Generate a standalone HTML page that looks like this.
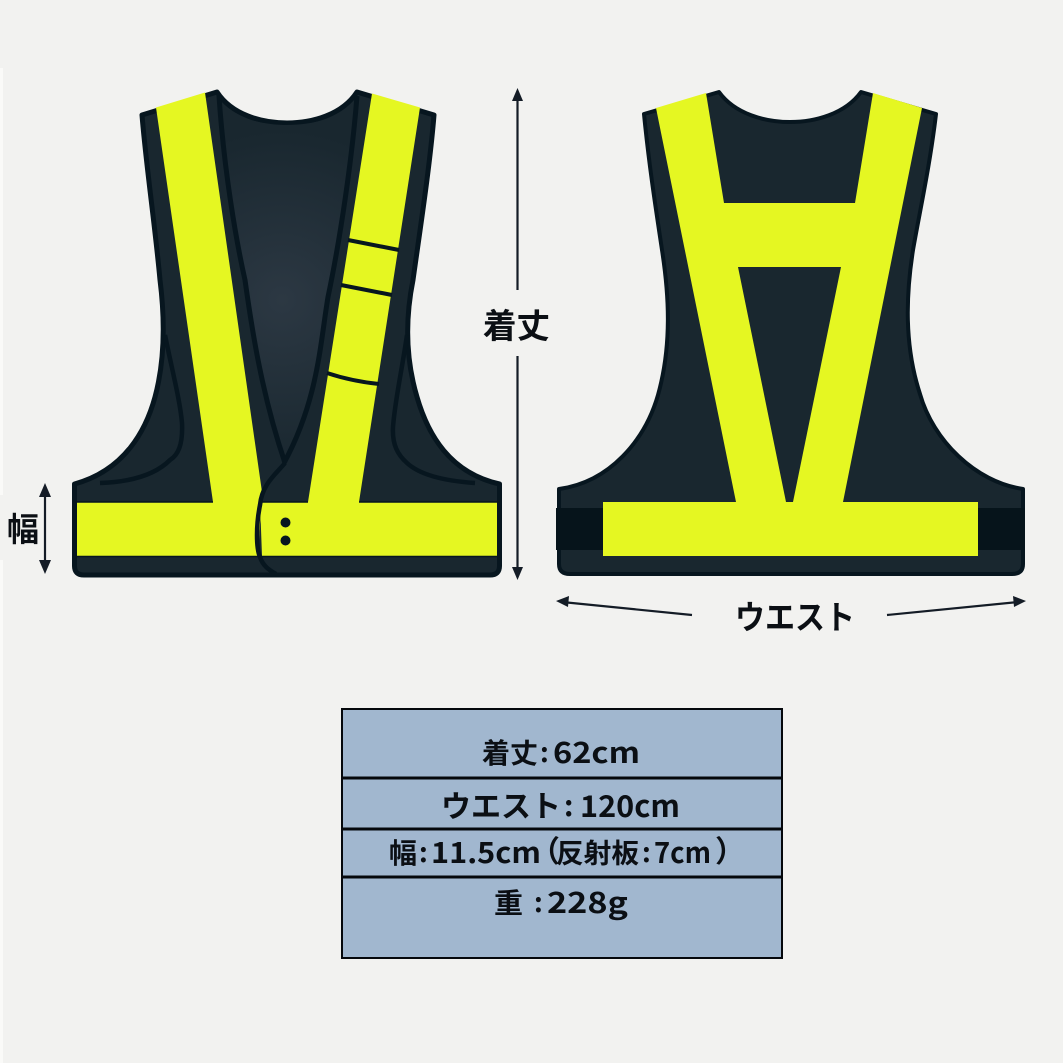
<!DOCTYPE html>
<html><head><meta charset="utf-8"><style>
html,body{margin:0;padding:0;background:#f2f2f0}
svg{display:block}
text{fill:#0b0f14}
.c{font-family:"Noto Sans CJK JP",sans-serif;font-weight:700}
</style></head><body>
<svg width="1063" height="1063" viewBox="0 0 1063 1063" xmlns="http://www.w3.org/2000/svg">
<defs>
<radialGradient id="g" gradientUnits="userSpaceOnUse" cx="282" cy="300" r="170"><stop offset="0" stop-color="#2c3843"/><stop offset="1" stop-color="#19272f"/></radialGradient>
</defs>
<rect width="1063" height="1063" fill="#f2f2f0"/>
<rect x="0" y="68" width="3" height="427" fill="#fafaf8"/>
<rect x="0" y="560" width="3" height="503" fill="#fafaf8"/>

<!-- LEFT VEST -->
<path d="M142 115 L217 92 C232 115 262 123 287 123 C312 123 342 115 357 92 L434 115 C430 165 420 230 413 280 C405 320 406 360 417 397 C428 435 450 473 499.500 484 L499.500 566 Q499.500 575 490 575 L84 575 Q74.500 575 74.500 566 L74.500 484 C125 470 146 430 155 397 C165 360 165 320 160 280 C155 225 146 165 142 115 Z" fill="#19272f" stroke="#07161f" stroke-width="5" stroke-linejoin="round"/>
<path d="M219 100 C232 118 262 125 287 125 C312 125 342 118 356 100 C352 160 340 240 328 297 C320 345 318 400 284 463 C262 395 252 330 245 280 C236 240 224 170 219 100 Z" fill="url(#g)"/>
<!-- inner seams -->
<path d="M219 96 C224 170 236 240 245 280 C252 330 262 395 285 463" fill="none" stroke="#07161f" stroke-width="5"/>
<path d="M357 96 C352 160 340 240 328 297 C320 345 318 400 284 463" fill="none" stroke="#07161f" stroke-width="5"/>
<path d="M165 335 C172 370 180 400 182 423 C183 445 178 455 170 460 C155 475 130 482 100 483" fill="none" stroke="#07161f" stroke-width="4.500"/>
<path d="M407 335 C402 370 395 400 393 427 C392 445 398 455 407 463 C420 475 445 481 475 483" fill="none" stroke="#07161f" stroke-width="4.500"/>
<!-- yellow -->
<path d="M156 107.500 L205 92.500 L262 492 L258 556 L77 556 L77 502 L213 502 Z" fill="#e5f722"/>
<path d="M372 93.500 L420 107.500 L359 502 L497 502 L497 556 L262 556 L260 502 L308 502 Z" fill="#e5f722"/>
<!-- band edge -->
<path d="M77 556.500 H497 M77 502 H213 M308 502 H262 M359 502 H497" stroke="#07161f" stroke-width="1.500" fill="none"/>
<!-- straps seam lines -->
<path d="M348 240 L399 250" stroke="#07161f" stroke-width="4"/>
<path d="M341 285 L392 295" stroke="#07161f" stroke-width="4"/>
<path d="M327 373 C345 379 360 382 379 384" stroke="#07161f" stroke-width="4" fill="none"/>
<!-- placket -->
<path d="M285 463 C276 474 262 484 260 505 C256 525 256 548 260 557 C263 566 269 570 276 574" fill="none" stroke="#07161f" stroke-width="4.500"/>
<circle cx="285.500" cy="522.500" r="5" fill="#07161f"/>
<circle cx="285.500" cy="540.500" r="5" fill="#07161f"/>

<!-- RIGHT VEST -->
<path d="M644 114 L719 92 C735 114 765 122 790 122 C815 122 845 114 861 92 L936 114 C930 165 920 210 913 250 C906 295 904 345 920 394 C933 440 975 482 1023 489 L1023 564 Q1023 574 1012 574 L570 574 Q559 574 559 564 L559 489 C610 482 645 440 658 395 C672 345 669 295 662 250 C656 210 649 165 644 114 Z" fill="#19272f" stroke="#07161f" stroke-width="4" stroke-linejoin="round"/>
<rect x="556" y="508" width="48" height="42" fill="#06141b"/>
<rect x="977" y="508" width="48" height="42" fill="#06141b"/>
<path d="M656 108 L706 93 L724 203 L855 203 L873 93 L922 108 L843 502 L978 502 L978 556 L603 556 L603 502 L736 502 Z" fill="#e5f722"/>
<path d="M738 267 L841 267 L793 502 L786 502 Z" fill="#19272f"/>

<!-- ARROWS -->
<g stroke="#141c26" stroke-width="2.200" fill="#141c26">
<path d="M517.500 96 V290"/>
<path d="M517.500 356 V572"/>
<path d="M517.500 88 L512 101 L523 101 Z" stroke="none"/>
<path d="M517.500 580 L512 567 L523 567 Z" stroke="none"/>
<path d="M45 490 V566"/>
<path d="M45 483 L39 497 L51 497 Z" stroke="none"/>
<path d="M45 574 L39 560 L51 560 Z" stroke="none"/>
<path d="M562 602 L692 615"/>
<path d="M556 601 L569 596 L568 607 Z" stroke="none"/>
<path d="M887 615 L1018 602"/>
<path d="M1026 601 L1013 596 L1014 607 Z" stroke="none"/>
</g>

<!-- LABELS -->
<text class="c" x="483" y="338" font-size="34" textLength="67" lengthAdjust="spacingAndGlyphs">着丈</text>
<text class="c" x="7" y="541" font-size="33" textLength="32" lengthAdjust="spacingAndGlyphs">幅</text>
<text class="c" x="735" y="629" font-size="33" textLength="120" lengthAdjust="spacingAndGlyphs">ウエスト</text>

<!-- TABLE -->
<rect x="342" y="709" width="440" height="249" fill="#a1b7cf" stroke="#05080c" stroke-width="2"/>
<path d="M342 778 H782 M342 829 H782 M342 877 H782" stroke="#05080c" stroke-width="3"/>
<text class="c" x="482" y="763" font-size="28" textLength="56" lengthAdjust="spacingAndGlyphs">着丈</text>
<text class="c" x="540" y="762" font-size="27">:</text>
<text class="c" x="553" y="763" font-size="29" textLength="87" lengthAdjust="spacingAndGlyphs">62cm</text>

<text class="c" x="441" y="817" font-size="30" textLength="120" lengthAdjust="spacingAndGlyphs">ウエスト</text>
<text class="c" x="564" y="816" font-size="29">:</text>
<text class="c" x="580" y="817" font-size="30" textLength="100" lengthAdjust="spacingAndGlyphs">120cm</text>

<text class="c" x="389" y="863" font-size="28" textLength="28" lengthAdjust="spacingAndGlyphs">幅</text>
<text class="c" x="419" y="862" font-size="27">:</text>
<text class="c" x="431" y="863" font-size="29" textLength="110" lengthAdjust="spacingAndGlyphs">11.5cm</text>
<text class="c" x="530" y="862" font-size="30">（</text>
<text class="c" x="556" y="863" font-size="27" textLength="83" lengthAdjust="spacingAndGlyphs">反射板</text>
<text class="c" x="642" y="862" font-size="27">:</text>
<text class="c" x="654" y="863" font-size="29" textLength="57" lengthAdjust="spacingAndGlyphs">7cm</text>
<text class="c" x="715" y="862" font-size="30">）</text>

<text class="c" x="494" y="913" font-size="28" textLength="29" lengthAdjust="spacingAndGlyphs">重</text>
<text class="c" x="534" y="912" font-size="27">:</text>
<text class="c" x="547" y="913" font-size="29" textLength="81" lengthAdjust="spacingAndGlyphs">228g</text>
</svg>
</body></html>
